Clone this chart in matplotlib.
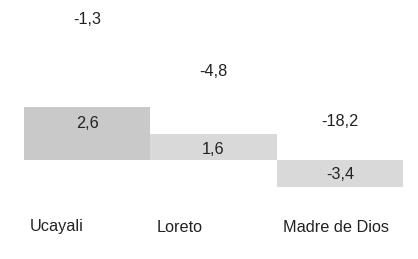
import matplotlib.pyplot as plt

categories = ["Ucayali", "Loreto", "Madre de Dios"]
# visible bars: label text and drawn height (arbitrary scale)
bar_labels = ["2,6", "1,6", "-3,4"]
bar_heights = [2.0, 1.0, -1.0]
bar_colors = ["#c9c9c9", "#d9d9d9", "#d9d9d9"]
# second series: only the labels are shown
upper_labels = ["-1,3", "-4,8", "-18,2"]
upper_heights = [5.36, 3.40, 1.51]

plt.rcParams["font.family"] = ["Liberation Sans", "DejaVu Sans"]

fig = plt.figure(figsize=(4.18, 2.59), dpi=100)
ax = fig.add_axes([24 / 418, 0, 379 / 418, 1])
unit_px = 26.5
ax.set_xlim(-0.5, 2.5)
ax.set_ylim(-(259 - 160) / unit_px, 160 / unit_px)
ax.axis("off")

x = list(range(len(categories)))
ax.bar(x, bar_heights, width=1.0, color=bar_colors, linewidth=0)

fs = 11.7
nudge = 2 / unit_px  # small downward shift of text baselines
offset = 14 / unit_px
for xi, h, lab in zip(x, bar_heights, bar_labels):
    y = h - offset if h > 0 else h + offset
    ax.text(xi, y - nudge, lab, ha="center", va="center", fontsize=fs, color="#222222")

for xi, h, lab in zip(x, upper_heights, upper_labels):
    ax.text(xi, h - nudge, lab, ha="center", va="center", fontsize=fs, color="#222222")

cat_y = -(225 - 160) / unit_px
for xi, lab in zip(x, categories):
    ax.text(xi - 0.5 + 6 / 126.3, cat_y - nudge, lab, ha="left", va="center",
            fontsize=fs, color="#222222")

fig.savefig("out.png", dpi=100)
